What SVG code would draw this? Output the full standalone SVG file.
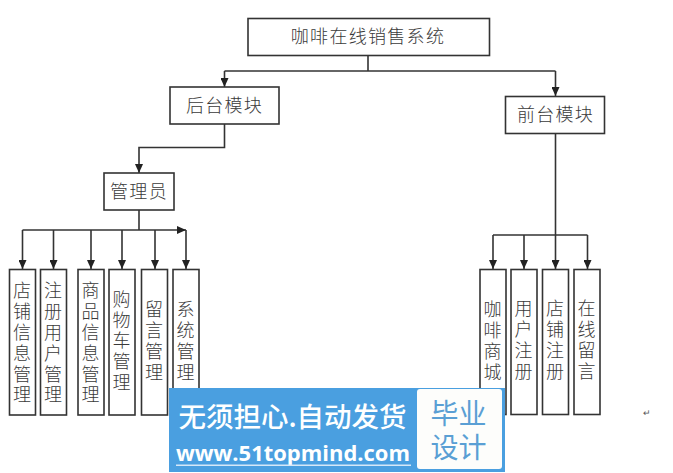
<svg xmlns="http://www.w3.org/2000/svg" width="673" height="473" viewBox="0 0 673 473">
<style>
.b{fill:#fff;stroke:#333;stroke-width:1.6}
.t{font-family:"Noto Sans CJK SC","Noto Sans",sans-serif;font-size:18px;font-weight:300;fill:#3a3a3a;text-anchor:middle}
.v{writing-mode:vertical-rl;letter-spacing:2.8px}
.c{fill:none;stroke:#333;stroke-width:1.6}
.w{font-family:"Noto Sans CJK SC","Noto Sans",sans-serif;text-anchor:middle}
</style>
<defs><marker id="a" markerUnits="userSpaceOnUse" markerWidth="10" markerHeight="8" refX="9" refY="4" orient="auto"><path d="M0 0L9 4L0 8Z" fill="#222"/></marker></defs>
<rect width="673" height="473" fill="#fff"/>
<g id="connectors">
<path class="c" d="M368 56V71"/>
<path class="c" d="M224.500 71H555.500"/>
<path class="c" d="M224.500 71V87" marker-end="url(#a)"/>
<path class="c" d="M555.500 71V96" marker-end="url(#a)"/>
<path class="c" d="M224.500 124V147.500H139V173" marker-end="url(#a)"/>
<path class="c" d="M139 210V230"/>
<path class="c" d="M22.500 230H186" marker-end="url(#a)"/>
<path class="c" d="M22.500 230V269" marker-end="url(#a)"/>
<path class="c" d="M53.500 230V269" marker-end="url(#a)"/>
<path class="c" d="M91 230V269" marker-end="url(#a)"/>
<path class="c" d="M122 230V269" marker-end="url(#a)"/>
<path class="c" d="M155 230V269" marker-end="url(#a)"/>
<path class="c" d="M186 230V269" marker-end="url(#a)"/>
<path class="c" d="M555.500 133V235"/>
<path class="c" d="M493 235H587.500"/>
<path class="c" d="M493 235V269" marker-end="url(#a)"/>
<path class="c" d="M524 235V269" marker-end="url(#a)"/>
<path class="c" d="M555.500 235V269" marker-end="url(#a)"/>
<path class="c" d="M587.500 235V269" marker-end="url(#a)"/>
</g>
<g id="n-root"><rect class="b" x="248" y="18.500" width="241.500" height="37"/><text class="t" x="368" y="43" style="letter-spacing:1.300px">咖啡在线销售系统</text></g>
<g id="n-back"><rect class="b" x="170" y="87" width="109" height="37"/><text class="t" x="224.500" y="112" style="letter-spacing:1.300px">后台模块</text></g>
<g id="n-front"><rect class="b" x="505.500" y="96.500" width="99" height="37"/><text class="t" x="555.500" y="121" style="letter-spacing:1.300px">前台模块</text></g>
<g id="n-admin"><rect class="b" x="104" y="173" width="70" height="37"/><text class="t" x="139" y="198" style="letter-spacing:1.300px">管理员</text></g>
<g id="n-l1"><rect class="b" x="9.500" y="269.500" width="26" height="145.500"/><text class="t v" x="22" y="344">店铺信息管理</text></g>
<g id="n-l2"><rect class="b" x="40.500" y="269.500" width="26" height="145.500"/><text class="t v" x="53" y="344">注册用户管理</text></g>
<g id="n-l3"><rect class="b" x="78" y="269.500" width="26" height="145.500"/><text class="t v" x="90.500" y="344">商品信息管理</text></g>
<g id="n-l4"><rect class="b" x="109" y="269.500" width="26" height="145.500"/><text class="t v" x="121.500" y="342">购物车管理</text></g>
<g id="n-l5"><rect class="b" x="141.500" y="269.500" width="26" height="145.500"/><text class="t v" x="154" y="342">留言管理</text></g>
<g id="n-l6"><rect class="b" x="173" y="269.500" width="26" height="145.500"/><text class="t v" x="185.500" y="342">系统管理</text></g>
<g id="n-r1"><rect class="b" x="480" y="269.500" width="26" height="145"/><text class="t v" x="492.500" y="342">咖啡商城</text></g>
<g id="n-r2"><rect class="b" x="511" y="269.500" width="26" height="145"/><text class="t v" x="523.500" y="341">用户注册</text></g>
<g id="n-r3"><rect class="b" x="542.500" y="269.500" width="26" height="145"/><text class="t v" x="555" y="341">店铺注册</text></g>
<g id="n-r4"><rect class="b" x="574" y="269.500" width="26" height="145"/><text class="t v" x="586.500" y="341">在线留言</text></g>
<text x="647" y="416" font-family="'Liberation Sans',sans-serif" font-size="9" fill="#555" text-anchor="middle">↵</text>
<g id="watermark">
<rect x="169" y="388" width="336" height="84" fill="#4a9fe0"/>
<rect x="417" y="389" width="85" height="80" rx="3" fill="#fdfdfb"/>
<text class="w" x="292.500" y="427" font-size="27.500" font-weight="500" fill="#fff">无须担心.自动发货</text>
<text class="w" x="293" y="461" font-size="21" font-weight="700" fill="#fff" textLength="234" lengthAdjust="spacingAndGlyphs" style="font-family:'Open Sans','Noto Sans',sans-serif">www.51topmind.com</text>
<rect x="176" y="464.500" width="235" height="1.500" fill="#d5e8f8"/>
<text class="w" x="458.500" y="424" font-size="28" font-weight="400" fill="#5a9fd4">毕业</text>
<text class="w" x="458.500" y="458" font-size="28" font-weight="400" fill="#5a9fd4">设计</text>
</g>
</svg>
